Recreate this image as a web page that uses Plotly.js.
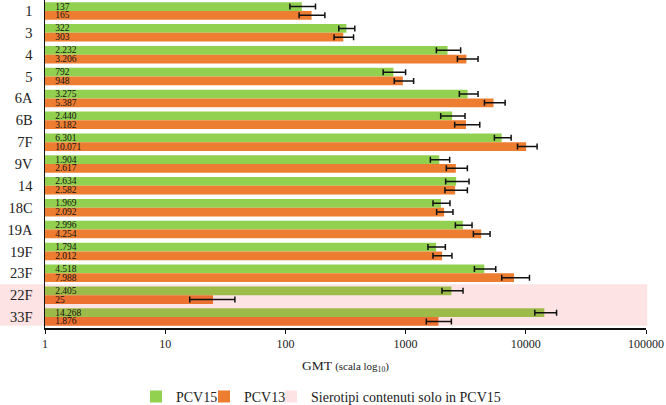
<!DOCTYPE html>
<html>
<head>
<meta charset="utf-8">
<script src="https://cdn.plot.ly/plotly-3.0.1.min.js"></script>
<style>
html,body{margin:0;padding:0;background:#fff;}
#chart{width:666px;height:405px;}
</style>
</head>
<body>
<div id="chart"></div>
<script>
const categories = ['1','3','4','5','6A','6B','7F','9V','14','18C','19A','19F','23F','22F','33F'];
const pcv15 = [137,322,2232,792,3275,2440,6301,1904,2634,1969,2996,1794,4518,2405,14268];
const pcv13 = [165,303,3206,948,5387,3182,10071,2617,2582,2092,4254,2012,7988,25,1876];
const pcv15Low = [109,278,1803,651,2800,1958,5480,1607,2154,1690,2595,1534,3735,2008,11880];
const pcv15High = [178,378,2872,1000,4006,3122,7550,2326,3371,2340,3570,2142,5623,3004,18030];
const pcv13Low = [130,254,2698,805,4527,2560,8530,2183,2126,1812,3664,1690,6310,16,1486];
const pcv13High = [213,369,4006,1166,6730,4140,12420,3266,3266,2478,5043,2430,10730,38,2404];
const pcv15Only = ['22F','33F'];
const xTickVals = [1,10,100,1000,10000,100000];
const xTickText = ['1','10','100','1000','10000','100000'];
const legendNames = ['PCV15', 'PCV13', 'Sierotipi contenuti solo in PCV15'];

const FONT = 'Liberation Serif';
const green = '#92D050', greenDim = '#9DBB48';
const orange = '#ED7D31', orangeDim = '#EC7030';
const pink = '#FDE3E3';

const g15 = categories.map(c => pcv15Only.includes(c) ? greenDim : green);
const o13 = categories.map(c => pcv15Only.includes(c) ? orangeDim : orange);

function errs(v, lo, hi) {
  return {
    type: 'data', symmetric: false,
    array: v.map((x, i) => hi[i] - x),
    arrayminus: v.map((x, i) => x - lo[i]),
    color: '#111', thickness: 1.5, width: 3
  };
}

const PAD = '\u00a0\u00a0\u00a0';

const traces = [
  {
    type: 'bar', orientation: 'h', name: legendNames[0], legend: 'legend',
    y: categories, x: pcv15,
    marker: {color: g15, line: {width: 0}},
    error_x: errs(pcv15, pcv15Low, pcv15High),
    texttemplate: PAD + '%{x:,}', textposition: 'inside', insidetextanchor: 'start',
    constraintext: 'none',
    textfont: {family: FONT, size: 9.5, color: '#111'},
    hoverinfo: 'x+y'
  },
  {
    type: 'bar', orientation: 'h', name: legendNames[1], legend: 'legend2',
    y: categories, x: pcv13,
    marker: {color: o13, line: {width: 0}},
    error_x: errs(pcv13, pcv13Low, pcv13High),
    texttemplate: PAD + '%{x:,}', textposition: 'inside', insidetextanchor: 'start',
    constraintext: 'none',
    textfont: {family: FONT, size: 9.5, color: '#111'},
    hoverinfo: 'x+y'
  },
  {
    type: 'scatter', mode: 'markers', name: legendNames[2], legend: 'legend3',
    x: [null], y: [null],
    marker: {symbol: 'square', size: 12, color: pink},
    hoverinfo: 'skip'
  }
];

function leg(textX) {
  return {
    orientation: 'h', xref: 'paper', x: (textX - 42 - 45) / 601, xanchor: 'left',
    y: -0.21, yanchor: 'middle',
    font: {family: FONT, size: 14, color: '#222'},
    itemclick: false, bgcolor: 'rgba(0,0,0,0)'
  };
}

const layout = {
  width: 666, height: 405,
  margin: {l: 45, r: 20, t: 0, b: 77, autoexpand: false},
  paper_bgcolor: '#ffffff',
  plot_bgcolor: 'rgba(0,0,0,0)',
  barmode: 'group', bargap: 0.2, bargroupgap: 0,
  separators: ',.',
  font: {family: FONT, color: '#222'},
  showlegend: true,
  legend: leg(178),
  legend2: leg(246),
  legend3: leg(313),
  xaxis: {
    type: 'log', range: [0, 5],
    tickvals: xTickVals, ticktext: xTickText,
    showgrid: false, zeroline: false,
    showline: true, linecolor: '#111', linewidth: 1.5,
    ticks: 'outside', ticklen: 4, tickcolor: '#111', tickwidth: 1,
    ticklabelstandoff: 0,
    tickfont: {family: FONT, size: 12, color: '#222'},
    title: {
      text: 'GMT <span style="font-size:11px">(scala log<sub>10</sub>)</span>',
      font: {family: FONT, size: 13.5, color: '#222'},
      standoff: 10
    }
  },
  yaxis: {
    type: 'category', categoryorder: 'array', categoryarray: categories,
    autorange: 'reversed',
    showgrid: false, zeroline: false,
    showline: true, linecolor: '#111', linewidth: 1.5,
    ticks: '', ticklabelstandoff: 8,
    tickfont: {family: FONT, size: 14.5, color: '#222'}
  },
  shapes: [
    {
      type: 'rect', xref: 'paper', yref: 'y',
      x0: -45/601, x1: 1.002,
      y0: 12.5, y1: 14.4,
      fillcolor: pink, line: {width: 0}, layer: 'below'
    }
  ]
};

Plotly.newPlot('chart', traces, layout, {displayModeBar: false, staticPlot: true});
</script>
</body>
</html>
